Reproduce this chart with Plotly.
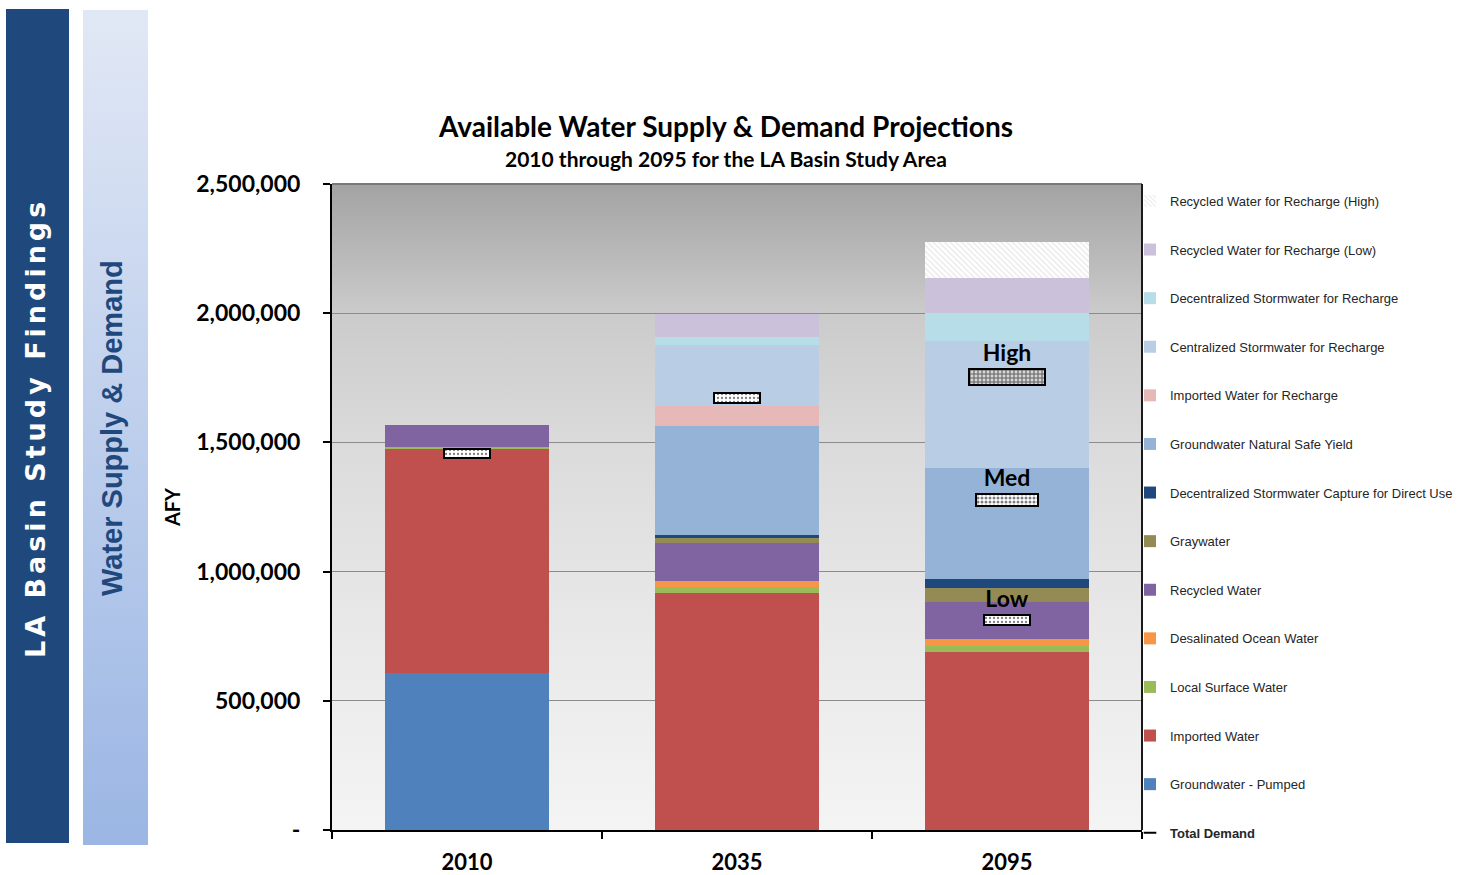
import base64
import plotly.graph_objects as go

# ---------------- data (acre-feet per year) ----------------
YEARS = ["2010", "2035", "2095"]

groundwater_pumped = [606000, 0, 0]
imported_water = [868000, 916000, 690000]
local_surface_water = [10000, 23000, 22000]
desalinated_ocean_water = [0, 26000, 27000]
recycled_water = [83000, 147000, 144000]
graywater = [0, 19000, 54000]
decentralized_direct_use = [0, 9000, 34000]
groundwater_natural_safe_yield = [0, 424000, 430000]
imported_for_recharge = [0, 76000, 0]
centralized_stormwater_recharge = [0, 236000, 493000]
decentralized_stormwater_recharge = [0, 32000, 106000]
recycled_recharge_low = [0, 90000, 135000]
recycled_recharge_high = [0, 0, 139000]

DEMAND_YEARS = ["2010", "2035", "2095", "2095", "2095"]
DEMAND_VALUES = [1458000, 1673000, 813000, 1277000, 1754000]
DEMAND_LABELS = ["", "", "Low", "Med", "High"]

Y_TICK_VALUES = [0, 500000, 1000000, 1500000, 2000000, 2500000]
Y_TICK_LABELS = ["-", "500,000", "1,000,000", "1,500,000", "2,000,000", "2,500,000"]

# ---------------- style ----------------
W, H = 1460, 875
PL, PR, PT, PB = 332, 1142, 184, 830          # plot area in pixels
PW, PHh = PR - PL, PB - PT

def px_x(px):
    return (px - PL) / PW

def px_y(py):
    return (PB - py) / PHh

DEMAND_THICKNESS = [36000, 38000, 38000, 49000, 63000]
DEMAND_WIDTH = [0.174, 0.174, 0.174, 0.226, 0.282]
DEMAND_SOLIDITY = [0.25, 0.25, 0.25, 0.45, 0.75]

NUM_FONT = "Lato, 'Open Sans', sans-serif"
LEG_FONT = "'Liberation Sans', Arial, sans-serif"

series = [
    ("Groundwater - Pumped", groundwater_pumped, "#4f81bd", None),
    ("Imported Water", imported_water, "#c0504d", None),
    ("Local Surface Water", local_surface_water, "#9bbb59", None),
    ("Desalinated Ocean Water", desalinated_ocean_water, "#f79646", None),
    ("Recycled Water", recycled_water, "#8064a2", None),
    ("Graywater", graywater, "#948a54", None),
    ("Decentralized Stormwater Capture for Direct Use", decentralized_direct_use, "#1f497d", None),
    ("Groundwater Natural Safe Yield", groundwater_natural_safe_yield, "#95b3d7", None),
    ("Imported Water for Recharge", imported_for_recharge, "#e6b9b8", None),
    ("Centralized Stormwater for Recharge", centralized_stormwater_recharge, "#b9cde5", None),
    ("Decentralized Stormwater for Recharge", decentralized_stormwater_recharge, "#b7dee8", None),
    ("Recycled Water for Recharge (Low)", recycled_recharge_low, "#ccc1da", None),
    ("Recycled Water for Recharge (High)", recycled_recharge_high, "#ffffff", "hatch"),
]

fig = go.Figure()
n = len(series)
for i, (name, vals, color, pat) in enumerate(series):
    marker = dict(color=color, line=dict(width=0))
    if pat == "hatch":
        marker["pattern"] = dict(shape="\\", fgcolor="#cfcfcf", bgcolor="#ffffff",
                                 size=4, solidity=0.3)
    fig.add_trace(go.Bar(
        x=YEARS, y=vals, name=name, marker=marker,
        legendgroup=name, legendrank=n - i,
        hovertemplate=name + ": %{y:,.0f}<extra></extra>",
    ))

# Total demand markers
bases = [v - t / 2 for v, t in zip(DEMAND_VALUES, DEMAND_THICKNESS)]
fig.add_trace(go.Bar(
    x=DEMAND_YEARS, y=DEMAND_THICKNESS, base=bases, width=DEMAND_WIDTH,
    name="Total Demand", showlegend=False, legendgroup="Total Demand",
    text=DEMAND_LABELS, textposition="outside", textangle=0, constraintext="none",
    cliponaxis=False,
    textfont=dict(family=NUM_FONT, size=23, color="black", weight="bold"),
    marker=dict(color="white", line=dict(color="black", width=2),
                pattern=dict(shape=".", fgcolor="black", bgcolor="white",
                             size=4, solidity=DEMAND_SOLIDITY)),
    customdata=DEMAND_VALUES,
    hovertemplate="Total Demand: %{customdata:,.0f}<extra></extra>",
))
# legend entry for total demand
fig.add_trace(go.Scatter(
    x=[None], y=[None], mode="markers", name="<b>Total Demand</b>",
    legendgroup="Total Demand", legendrank=n + 1,
    marker=dict(symbol="line-ew", size=9, line=dict(color="black", width=2)),
))

# ---------------- backgrounds ----------------
def svg_uri(svg):
    return "data:image/svg+xml;base64," + base64.b64encode(svg.encode()).decode()

plot_bg = svg_uri(
    f"<svg xmlns='http://www.w3.org/2000/svg' width='{PW}' height='{PHh}' viewBox='0 0 {PW} {PHh}' preserveAspectRatio='none'>"
    "<defs><linearGradient id='g' x1='0' y1='0' x2='0' y2='1'>"
    "<stop offset='0' stop-color='#a3a3a3'/>"
    "<stop offset='0.2' stop-color='#cbcbcb'/>"
    "<stop offset='0.42' stop-color='#dcdcdc'/>"
    "<stop offset='0.7' stop-color='#e9e9e9'/>"
    "<stop offset='1' stop-color='#f4f4f4'/>"
    "</linearGradient></defs>"
    f"<rect width='{PW}' height='{PHh}' fill='url(#g)'/></svg>"
)
side_bg = svg_uri(
    "<svg xmlns='http://www.w3.org/2000/svg' width='65' height='835' viewBox='0 0 65 835' preserveAspectRatio='none'>"
    "<defs><linearGradient id='g' x1='0' y1='0' x2='0' y2='1'>"
    "<stop offset='0' stop-color='#e1e8f5'/>"
    "<stop offset='1' stop-color='#9bb6e4'/>"
    "</linearGradient></defs>"
    "<rect width='65' height='835' fill='url(#g)'/></svg>"
)

images = [
    dict(source=plot_bg, xref="paper", yref="paper", x=0, y=1, sizex=1, sizey=1,
         sizing="stretch", layer="below", xanchor="left", yanchor="top"),
    dict(source=side_bg, xref="paper", yref="paper", x=px_x(83), y=px_y(10),
         sizex=65 / PW, sizey=835 / PHh, sizing="stretch", layer="below",
         xanchor="left", yanchor="top"),
]

shapes = [
    dict(type="rect", xref="paper", yref="paper", x0=px_x(6), x1=px_x(69),
         y0=px_y(843), y1=px_y(9), fillcolor="#1f497d", line=dict(width=0), layer="below"),
    dict(type="line", xref="paper", yref="paper", x0=0, x1=1, y0=1, y1=1,
         line=dict(color="#7a7a7a", width=2), layer="above"),
    dict(type="line", xref="paper", yref="paper", x0=1, x1=1, y0=0, y1=1,
         line=dict(color="#1a1a1a", width=2), layer="above"),
]

annotations = [
    dict(text="<b><span style='letter-spacing:4px'>LA Basin Study Findings</span></b>",
         xref="paper", yref="paper", x=px_x(35), y=px_y(428), textangle=-90,
         xanchor="center", yanchor="middle",
         showarrow=False, font=dict(family="DejaVu Sans", size=27, color="white")),
    dict(text="<b>Water Supply &amp; Demand</b>",
         xref="paper", yref="paper", x=px_x(112), y=px_y(428), textangle=-90,
         xanchor="center", yanchor="middle",
         showarrow=False, font=dict(family="Liberation Sans", size=29, color="#1f497d")),
    dict(text="<b>2010 through 2095 for the LA Basin Study Area</b>",
         xref="paper", yref="paper", x=px_x(726), y=px_y(158), xanchor="center", yanchor="middle",
         showarrow=False, font=dict(family=NUM_FONT, size=21, color="black")),
]

fig.update_layout(
    width=W, height=H,
    margin=dict(l=PL, r=W - PR, t=PT, b=H - PB, pad=0, autoexpand=False),
    paper_bgcolor="white", plot_bgcolor="rgba(0,0,0,0)",
    barmode="stack", bargap=0.395,
    title=dict(
        text="<b>Available Water Supply &amp; Demand Projections</b>",
        font=dict(family=NUM_FONT, size=28, color="black"),
        x=726 / W, xanchor="center", xref="container",
        y=1 - 127 / H, yanchor="middle", yref="container",
    ),
    xaxis=dict(
        type="category", categoryorder="array", categoryarray=YEARS,
        range=[-0.5, 2.5], showgrid=False, zeroline=False,
        showline=True, linecolor="black", linewidth=2,
        ticks="outside", tickson="boundaries", ticklen=7, tickwidth=2, tickcolor="black",
        tickfont=dict(family=NUM_FONT, size=22, color="black", weight="bold"),
        ticklabelstandoff=12,
    ),
    yaxis=dict(
        range=[0, 2500000], tickvals=Y_TICK_VALUES, ticktext=Y_TICK_LABELS,
        showgrid=True, gridcolor="#8c8c8c", gridwidth=1, zeroline=False,
        showline=True, linecolor="black", linewidth=2,
        ticks="outside", ticklen=7, tickwidth=2, tickcolor="black",
        tickfont=dict(family=NUM_FONT, size=23, color="black", weight="bold"),
        ticklabelstandoff=18,
        title=dict(text="<b>AFY</b>", standoff=10,
                   font=dict(family=NUM_FONT, size=20, color="black")),
    ),
    legend=dict(
        x=1130 / W, xref="container", xanchor="left",
        y=1 - 186 / H, yref="container", yanchor="top",
        traceorder="grouped", tracegroupgap=28.7, maxheight=720,
        font=dict(family=LEG_FONT, size=13, color="#262626"),
        bgcolor="rgba(0,0,0,0)", itemwidth=30,
    ),
    images=images, shapes=shapes, annotations=annotations,
    showlegend=True,
)

fig.write_html(
    "out.html",
    config={"displayModeBar": False},
    post_script="document.body.style.margin='0px';document.body.style.overflow='hidden';",
)
